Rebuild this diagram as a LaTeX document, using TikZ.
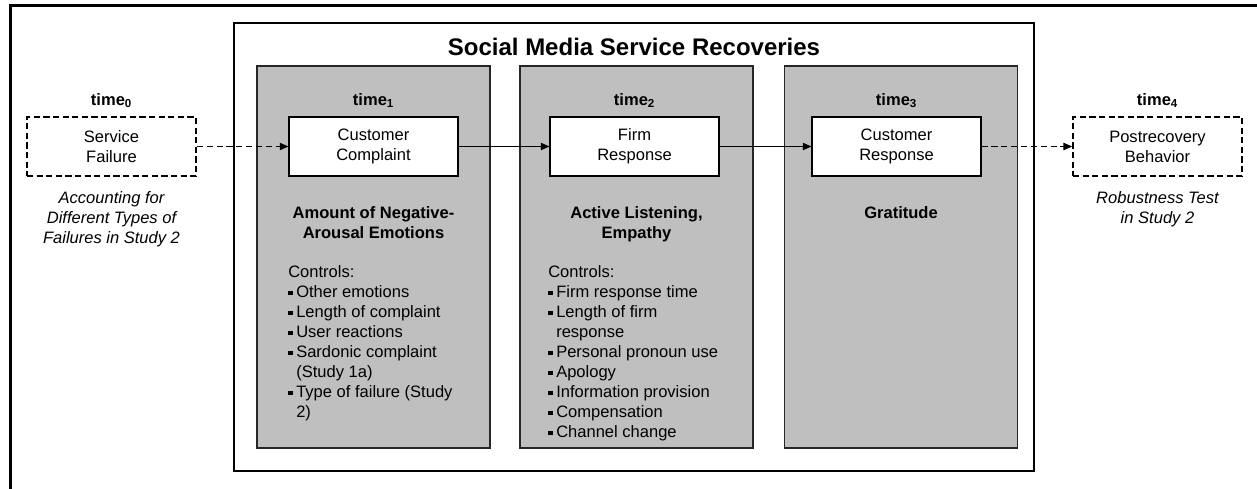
\documentclass[tikz,border=0pt]{standalone}
\usepackage{fontspec}
\setmainfont{Liberation Sans}
\usetikzlibrary{arrows.meta}

\newcommand{\bodysize}{\fontsize{12.4pt}{15pt}\selectfont}
\newcommand{\bul}{\makebox[6pt][l]{\rule[1.5pt]{3.3pt}{3.3pt}}}
\newcommand{\ind}{\hspace*{6pt}}

\tikzset{
  panel/.style={draw=black!85, line width=1.1pt, fill=black!25, minimum width=174.75pt, minimum height=286.5pt, inner sep=0pt},
  event/.style={draw, line width=0.8pt, fill=white, minimum width=126.75pt, minimum height=44.25pt, align=center, font=\bodysize},
  latent/.style={event, dash pattern=on 4.6pt off 2.6pt, line width=1.3pt},
  stamp/.style={font=\bodysize\bfseries, anchor=base, inner sep=0pt},
  construct/.style={font=\bodysize\bfseries, align=center, anchor=north, inner sep=0pt},
  note/.style={font=\bodysize\itshape, align=center, anchor=north, inner sep=0pt},
  ctlist/.style={font=\bodysize, align=left, anchor=north west, inner sep=0pt},
  link/.style={line width=0.9pt, -{Triangle[length=6.5pt,width=5.5pt]}},
  dashlink/.style={link, dash pattern=on 4.6pt off 2.8pt},
}

\begin{document}
\begin{tikzpicture}[x=0.75pt, y=-0.75pt]
  \useasboundingbox (0,0) rectangle (1257,489);
  % outer frame
  \draw[line width=2.25pt] (1257,5.5) -| (10.5,489);
  \node[draw, line width=1pt, minimum width=600pt, minimum height=336pt, inner sep=0pt] (frame) at (634,247) {};
  \node[font=\fontsize{18pt}{22pt}\selectfont\bfseries, anchor=base, inner sep=0pt] (title) at (634,55) {Social Media Service Recoveries};
  %
  \node[panel] (p1) at (373.5,257) {};
  \node[panel] (p2) at (636.5,257) {};
  \node[panel] (p3) at (901,257) {};
  %
  \node[stamp] (t0) at (111.5,105) {time\textsubscript{0}};
  \node[stamp] (t1) at (373.5,105) {time\textsubscript{1}};
  \node[stamp] (t2) at (634.5,105) {time\textsubscript{2}};
  \node[stamp] (t3) at (896.5,105) {time\textsubscript{3}};
  \node[stamp] (t4) at (1157.5,105) {time\textsubscript{4}};
  %
  \node[latent] (failure) at (111.5,146.5) {Service\\Failure};
  \node[event] (complaint) at (373.5,146.5) {Customer\\Complaint};
  \node[event] (firm) at (634.5,146.5) {Firm\\Response};
  \node[event] (customer) at (896.5,146.5) {Customer\\Response};
  \node[latent] (behavior) at (1157.5,146.5) {Postrecovery\\Behavior};
  %
  \draw[dashlink] (failure) -- (complaint);
  \draw[link] (complaint) -- (firm);
  \draw[link] (firm) -- (customer);
  \draw[dashlink] (customer) -- (behavior);
  %
  \node[note] (accounting) at (111.5,191) {Accounting for\\Different Types of\\Failures in Study 2};
  \node[note] (robustness) at (1157.5,191) {Robustness Test\\in Study 2};
  %
  \node[construct] (emotions) at (373.5,206) {Amount of Negative-\\Arousal Emotions};
  \node[construct] (listening) at (636.5,206) {Active Listening,\\Empathy};
  \node[construct] (gratitude) at (901,206) {Gratitude};
  %
  \node[ctlist] (ctl1) at (288,265) {Controls:\\
    \bul Other emotions\\
    \bul Length of complaint\\
    \bul User reactions\\
    \bul Sardonic complaint\\
    \ind (Study 1a)\\
    \bul Type of failure (Study\\
    \ind 2)};
  \node[ctlist] (ctl2) at (548,265) {Controls:\\
    \bul Firm response time\\
    \bul Length of firm\\
    \ind response\\
    \bul Personal pronoun use\\
    \bul Apology\\
    \bul Information provision\\
    \bul Compensation\\
    \bul Channel change};
\end{tikzpicture}
\end{document}
